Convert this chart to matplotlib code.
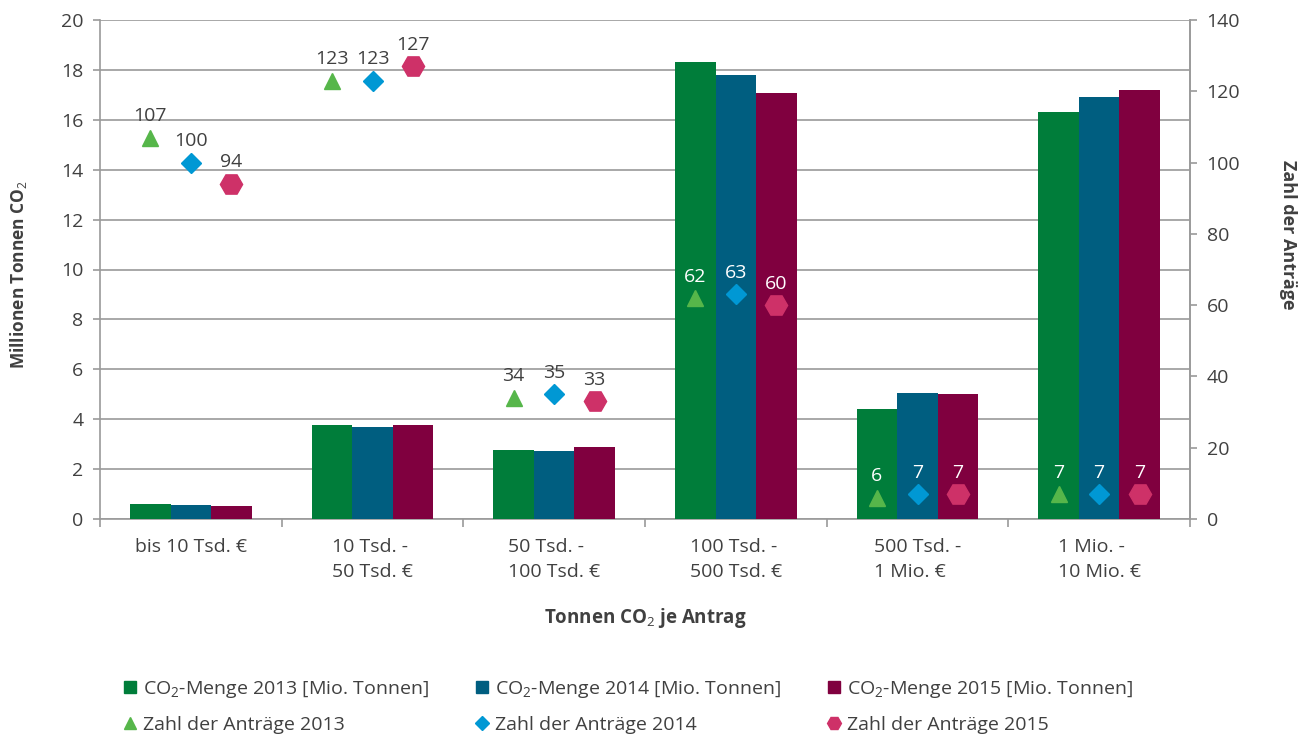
import matplotlib
matplotlib.use("Agg")
import matplotlib.pyplot as plt
import numpy as np
from matplotlib.lines import Line2D

plt.rcParams['font.family'] = ['Open Sans', 'DejaVu Sans']
plt.rcParams['mathtext.fontset'] = 'custom'
plt.rcParams['mathtext.rm'] = 'Open Sans'
plt.rcParams['mathtext.bf'] = 'Open Sans:bold'

categories = ["bis 10 Tsd. €", "10 Tsd. -\n50 Tsd. €", "50 Tsd. -\n100 Tsd. €",
              "100 Tsd. -\n500 Tsd. €", "500 Tsd. -\n1 Mio. €", "1 Mio. -\n10 Mio. €"]
co2_2013 = [0.6, 3.75, 2.75, 18.3, 4.4, 16.3]
co2_2014 = [0.56, 3.7, 2.72, 17.8, 5.05, 16.9]
co2_2015 = [0.52, 3.75, 2.9, 17.07, 5.0, 17.2]
antraege_2013 = [107, 123, 34, 62, 6, 7]
antraege_2014 = [100, 123, 35, 63, 7, 7]
antraege_2015 = [94, 127, 33, 60, 7, 7]
label_white = [False, False, False, True, True, True]

TXT = '#404040'
GRID = '#9a9a9a'
bar_colors = ['#007D3A', '#005E80', '#80003F']
mk_colors = ['#56B64A', '#0098D4', '#CE3168']

fig = plt.figure(figsize=(13.11, 7.40), dpi=100)
ax = fig.add_axes([100/1311, 1-519/740, 1090/1311, 499/740])
x = np.arange(len(categories))
w = 0.223
for i, (vals, c) in enumerate(zip([co2_2013, co2_2014, co2_2015], bar_colors)):
    ax.bar(x + (i-1)*w, vals, w, color=c, zorder=3, linewidth=0)

ax.set_xlim(-0.5, len(categories)-0.5)
ax.set_ylim(0, 20)
ax.set_yticks(np.arange(0, 21, 2))
ax.yaxis.grid(True, color=GRID, linewidth=1.2, zorder=0)
ax.set_axisbelow(True)
ax.spines['top'].set_visible(False)
for s in ['left', 'bottom', 'right']:
    ax.spines[s].set_color(GRID)
    ax.spines[s].set_linewidth(1.2)
ax.set_xticks(x)
ax.set_xticklabels(categories, fontsize=14, color=TXT, multialignment='left', va='top', linespacing=1.45)
ax.tick_params(axis='x', length=0, pad=14)
ax.set_xticks(np.arange(-0.5, len(categories), 1), minor=True)
ax.tick_params(axis='x', which='minor', length=6, color=GRID, width=1.2)
ax.tick_params(axis='y', length=5, color=GRID, width=1.2, labelsize=14, labelcolor=TXT, pad=7)
ax.set_ylabel('Millionen Tonnen CO$_2$', fontsize=12.5, fontweight='bold', color=TXT, va='center')
ax.yaxis.set_label_coords(-0.075, 0.49)
ax.set_xlabel('Tonnen CO$_2$ je Antrag', fontsize=13.5, fontweight='bold', color=TXT)
ax.xaxis.set_label_coords(0.5, -0.175)

ax2 = ax.twinx()
ax2.set_ylim(0, 140)
ax2.set_yticks(np.arange(0, 141, 20))
for s in ['top', 'left', 'bottom']:
    ax2.spines[s].set_visible(False)
ax2.spines['right'].set_color(GRID)
ax2.spines['right'].set_linewidth(1.2)
ax2.tick_params(axis='y', length=5, color=GRID, width=1.2, labelsize=14, labelcolor=TXT, pad=7)
ax2.set_ylabel('Zahl der Anträge', fontsize=13, fontweight='bold', color=TXT, rotation=-90, va='center')
ax2.yaxis.set_label_coords(1.09, 0.57)

markers = ['^', 'D', 'H']
msizes = [11, 10.5, 16]
for i, (vals, c, m, ms) in enumerate(zip([antraege_2013, antraege_2014, antraege_2015], mk_colors, markers, msizes)):
    xs = x + (i-1)*w
    ax2.plot(xs, vals, linestyle='none', marker=m, color=c, markersize=ms, zorder=4)
    for xi, v, wh in zip(xs, vals, label_white):
        ax2.annotate(str(v), (xi, v), xytext=(0, 9), textcoords='offset points',
                     ha='center', va='bottom', fontsize=14,
                     color='white' if wh else TXT)

handles = [
    Line2D([], [], linestyle='none', marker='s', color=bar_colors[0], markersize=8),
    Line2D([], [], linestyle='none', marker='^', color=mk_colors[0], markersize=9),
    Line2D([], [], linestyle='none', marker='s', color=bar_colors[1], markersize=8),
    Line2D([], [], linestyle='none', marker='D', color=mk_colors[1], markersize=7),
    Line2D([], [], linestyle='none', marker='s', color=bar_colors[2], markersize=8),
    Line2D([], [], linestyle='none', marker='H', color=mk_colors[2], markersize=10),
]
labels = ['CO$_2$-Menge 2013 [Mio. Tonnen]', 'Zahl der Anträge 2013',
          'CO$_2$-Menge 2014 [Mio. Tonnen]', 'Zahl der Anträge 2014',
          'CO$_2$-Menge 2015 [Mio. Tonnen]', 'Zahl der Anträge 2015']
leg = fig.legend(handles, labels, ncol=3, loc='upper left', bbox_to_anchor=(122/1311, 1-679/740),
                 frameon=False, fontsize=14, handlelength=0.8, handletextpad=0.3,
                 columnspacing=2.3, labelspacing=0.8, borderaxespad=0, borderpad=0)
for t in leg.get_texts():
    t.set_color(TXT)

fig.savefig('out.png', dpi=100)
